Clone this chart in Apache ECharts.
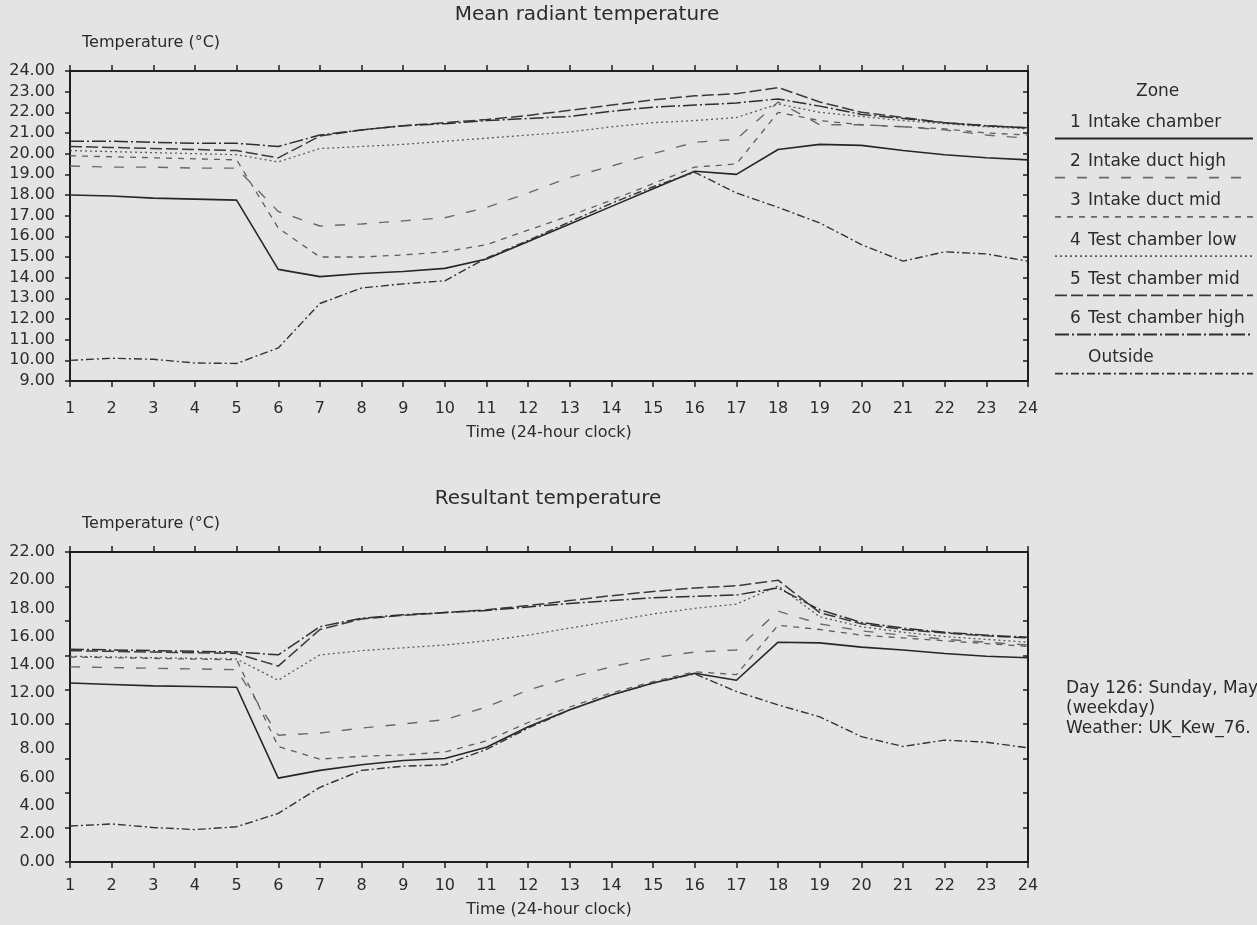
<!DOCTYPE html>
<html>
<head>
<meta charset="utf-8">
<script src="https://cdn.jsdelivr.net/npm/echarts@6/dist/echarts.min.js"></script>
<style>
  html, body { margin: 0; padding: 0; background: #e4e4e4; }
  #chart { width: 1257px; height: 925px; }
</style>
</head>
<body>
<div id="chart"></div>
<script>
// hours of the day
var hours = [1, 2, 3, 4, 5, 6, 7, 8, 9, 10, 11, 12, 13, 14, 15, 16, 17, 18, 19, 20, 21, 22, 23, 24];

// mean radiant temperature (top chart)
var mrtChamber  = [18.0, 17.95, 17.85, 17.8, 17.75, 14.4, 14.05, 14.2, 14.3, 14.45, 14.9, 15.75, 16.6, 17.45, 18.3, 19.15, 19.0, 20.2, 20.45, 20.4, 20.15, 19.95, 19.8, 19.7];
var mrtDuctHigh = [19.4, 19.35, 19.35, 19.3, 19.3, 17.2, 16.5, 16.6, 16.75, 16.9, 17.4, 18.1, 18.85, 19.4, 20.0, 20.55, 20.7, 22.5, 21.4, 21.4, 21.3, 21.15, 20.9, 20.75];
var mrtDuctMid  = [19.9, 19.85, 19.8, 19.75, 19.7, 16.4, 15.0, 15.0, 15.1, 15.25, 15.6, 16.3, 17.0, 17.75, 18.55, 19.35, 19.5, 22.0, 21.6, 21.4, 21.3, 21.2, 21.0, 20.9];
var mrtTestLow  = [20.15, 20.1, 20.05, 20.0, 19.95, 19.6, 20.25, 20.35, 20.45, 20.6, 20.75, 20.9, 21.05, 21.3, 21.5, 21.6, 21.75, 22.4, 22.0, 21.8, 21.6, 21.45, 21.3, 21.2];
var mrtTestMid  = [20.35, 20.3, 20.25, 20.2, 20.15, 19.8, 20.85, 21.15, 21.35, 21.5, 21.65, 21.85, 22.1, 22.35, 22.6, 22.8, 22.9, 23.2, 22.5, 22.0, 21.75, 21.5, 21.35, 21.25];
var mrtTestHigh = [20.6, 20.6, 20.55, 20.5, 20.5, 20.35, 20.9, 21.15, 21.35, 21.45, 21.6, 21.7, 21.8, 22.05, 22.25, 22.35, 22.45, 22.65, 22.3, 21.9, 21.7, 21.5, 21.35, 21.25];
var mrtOutside  = [10.0, 10.1, 10.05, 9.87, 9.85, 10.6, 12.75, 13.5, 13.7, 13.85, 14.95, 15.8, 16.7, 17.6, 18.4, 19.1, 18.1, 17.4, 16.65, 15.6, 14.8, 15.25, 15.15, 14.8];

// resultant temperature (bottom chart)
var resChamber  = [12.7, 12.6, 12.5, 12.45, 12.4, 5.95, 6.5, 6.9, 7.2, 7.35, 8.15, 9.6, 10.8, 11.85, 12.7, 13.4, 12.9, 15.6, 15.55, 15.25, 15.05, 14.8, 14.6, 14.5];
var resDuctHigh = [13.85, 13.8, 13.75, 13.7, 13.65, 9.0, 9.15, 9.5, 9.8, 10.1, 11.0, 12.2, 13.1, 13.85, 14.5, 14.9, 15.05, 17.8, 16.9, 16.4, 16.1, 15.8, 15.6, 15.4];
var resDuctMid  = [14.55, 14.5, 14.45, 14.4, 14.35, 8.2, 7.3, 7.5, 7.6, 7.8, 8.6, 9.9, 11.0, 12.0, 12.8, 13.5, 13.3, 16.8, 16.5, 16.1, 15.9, 15.7, 15.5, 15.3];
var resTestLow  = [14.6, 14.55, 14.5, 14.45, 14.4, 12.9, 14.7, 15.0, 15.2, 15.4, 15.7, 16.1, 16.6, 17.1, 17.6, 18.0, 18.3, 19.6, 17.4, 16.7, 16.3, 16.0, 15.8, 15.6];
var resTestMid  = [15.0, 14.95, 14.9, 14.85, 14.8, 13.9, 16.5, 17.25, 17.5, 17.7, 17.9, 18.2, 18.55, 18.9, 19.2, 19.45, 19.6, 20.0, 17.7, 16.9, 16.5, 16.25, 16.05, 15.9];
var resTestHigh = [15.1, 15.05, 15.0, 14.95, 14.9, 14.7, 16.7, 17.3, 17.55, 17.7, 17.85, 18.1, 18.35, 18.55, 18.75, 18.85, 18.95, 19.45, 17.9, 17.0, 16.6, 16.3, 16.1, 15.95];
var resOutside  = [2.55, 2.7, 2.45, 2.3, 2.5, 3.45, 5.3, 6.5, 6.8, 6.9, 8.0, 9.5, 10.8, 11.85, 12.7, 13.35, 12.1, 11.15, 10.3, 8.9, 8.2, 8.65, 8.5, 8.1];

var zoneNums  = ["1", "2", "3", "4", "5", "6", ""];
var zoneNames = ["Intake chamber", "Intake duct high", "Intake duct mid", "Test chamber low", "Test chamber mid", "Test chamber high", "Outside"];

var mrtData = [mrtChamber, mrtDuctHigh, mrtDuctMid, mrtTestLow, mrtTestMid, mrtTestHigh, mrtOutside];
var resData = [resChamber, resDuctHigh, resDuctMid, resTestLow, resTestMid, resTestHigh, resOutside];

// line looks per zone
var dashes = ["solid", [10, 12], [6, 6], [2, 3], [12, 4], [14, 3, 2, 3], [8, 3, 2, 3]];
var colors = ["#262626", "#6a6a6a", "#5e5e5e", "#5a5a5a", "#3a3a3a", "#2e2e2e", "#333333"];
var widths = [1.6, 1.4, 1.3, 1.3, 1.5, 1.5, 1.4];

var font = "DejaVu Sans";
var ink = "#2b2b2b";
var axisLine = { show: true, onZero: false, lineStyle: { color: "#1e1e1e", width: 2 } };
var tickStyle = { color: "#1e1e1e", width: 1.5 };

var myChart = echarts.init(document.getElementById("chart"));

function xAxes(grid, labelMargin, nameGap) {
  return [
    {
      gridIndex: grid, type: "value", min: 1, max: 24, interval: 1, position: "bottom",
      axisLine: axisLine,
      axisTick: { length: 6, lineStyle: tickStyle },
      axisLabel: { margin: labelMargin, color: ink, fontFamily: font, fontSize: 16 },
      splitLine: { show: false },
      name: "Time (24-hour clock)", nameLocation: "middle", nameGap: nameGap,
      nameTextStyle: { color: ink, fontFamily: font, fontSize: 16 }
    },
    {
      gridIndex: grid, type: "value", min: 1, max: 24, interval: 1, position: "top",
      axisLine: axisLine,
      axisTick: { length: 6, lineStyle: tickStyle },
      axisLabel: { show: false },
      splitLine: { show: false }
    }
  ];
}

var leftLabel = {
  color: ink, fontFamily: font, fontSize: 16, margin: 15,
  formatter: function (v) { return v.toFixed(2); }
};

var series = [];
function addSeries(data, xi, yi) {
  data.forEach(function (vals, k) {
    series.push({
      name: zoneNames[k],
      type: "line",
      xAxisIndex: xi,
      yAxisIndex: yi,
      symbol: "none",
      silent: true,
      animation: false,
      lineStyle: { color: colors[k], width: widths[k], type: dashes[k] },
      data: hours.map(function (h, i) { return [h, vals[i]]; })
    });
  });
}
addSeries(mrtData, 0, 0);
addSeries(resData, 2, 2);

// legend drawn as text above a sample line
var graphic = [{
  type: "text", left: 1158 - 22, top: 83,
  style: { text: "Zone", font: "17px " + font, fill: ink }
}];
zoneNames.forEach(function (nm, i) {
  var ty = 114 + i * 39.2;
  var ly = ty + 24.5;
  if (zoneNums[i]) {
    graphic.push({ type: "text", left: 1070, top: ty, style: { text: zoneNums[i], font: "17px " + font, fill: ink } });
  }
  graphic.push({ type: "text", left: 1088, top: ty, style: { text: nm, font: "17px " + font, fill: ink } });
  graphic.push({
    type: "line",
    shape: { x1: 1055, y1: ly, x2: 1253, y2: ly },
    style: { stroke: colors[i], lineWidth: widths[i] + 0.3, lineDash: dashes[i] === "solid" ? null : dashes[i] }
  });
});

var option = {
  backgroundColor: "#e4e4e4",
  animation: false,
  title: [
    { text: "Mean radiant temperature", left: 587, top: 5, textAlign: "center", padding: 0,
      textStyle: { color: ink, fontFamily: font, fontSize: 20, fontWeight: "normal" } },
    { text: "Temperature (°C)", left: 82, top: 35, padding: 0,
      textStyle: { color: ink, fontFamily: font, fontSize: 16, fontWeight: "normal" } },
    { text: "Resultant temperature", left: 548, top: 489, textAlign: "center", padding: 0,
      textStyle: { color: ink, fontFamily: font, fontSize: 20, fontWeight: "normal" } },
    { text: "Temperature (°C)", left: 82, top: 516, padding: 0,
      textStyle: { color: ink, fontFamily: font, fontSize: 16, fontWeight: "normal" } },
    { text: "Day 126: Sunday, May\n(weekday)\nWeather: UK_Kew_76.", left: 1066, top: 679, padding: 0,
      textStyle: { color: ink, fontFamily: font, fontSize: 17, fontWeight: "normal", lineHeight: 20 } }
  ],
  grid: [
    { left: 70, right: 229, top: 71, height: 310 },
    { left: 70, right: 229, top: 552, height: 310 }
  ],
  xAxis: xAxes(0, 20, 44).concat(xAxes(1, 16, 40)),
  yAxis: [
    { gridIndex: 0, type: "value", min: 9, max: 24, interval: 1, position: "left",
      axisLine: axisLine, axisTick: { length: 5, lineStyle: tickStyle },
      axisLabel: leftLabel, splitLine: { show: false } },
    { gridIndex: 0, type: "value", min: 9, max: 24, interval: 1, position: "right",
      axisLine: axisLine, axisTick: { inside: true, length: 5, lineStyle: tickStyle },
      axisLabel: { show: false }, splitLine: { show: false } },
    { gridIndex: 1, type: "value", min: 0, max: 22, interval: 2, position: "left",
      axisLine: axisLine, axisTick: { show: false },
      axisLabel: leftLabel, splitLine: { show: false } },
    { gridIndex: 1, type: "value", min: 0, max: 9, interval: 1, position: "left",
      axisLine: axisLine, axisTick: { length: 5, lineStyle: tickStyle },
      axisLabel: { show: false }, splitLine: { show: false } },
    { gridIndex: 1, type: "value", min: 0, max: 9, interval: 1, position: "right",
      axisLine: axisLine, axisTick: { inside: true, length: 5, lineStyle: tickStyle },
      axisLabel: { show: false }, splitLine: { show: false } }
  ],
  graphic: graphic,
  series: series
};

myChart.setOption(option);
</script>
</body>
</html>
